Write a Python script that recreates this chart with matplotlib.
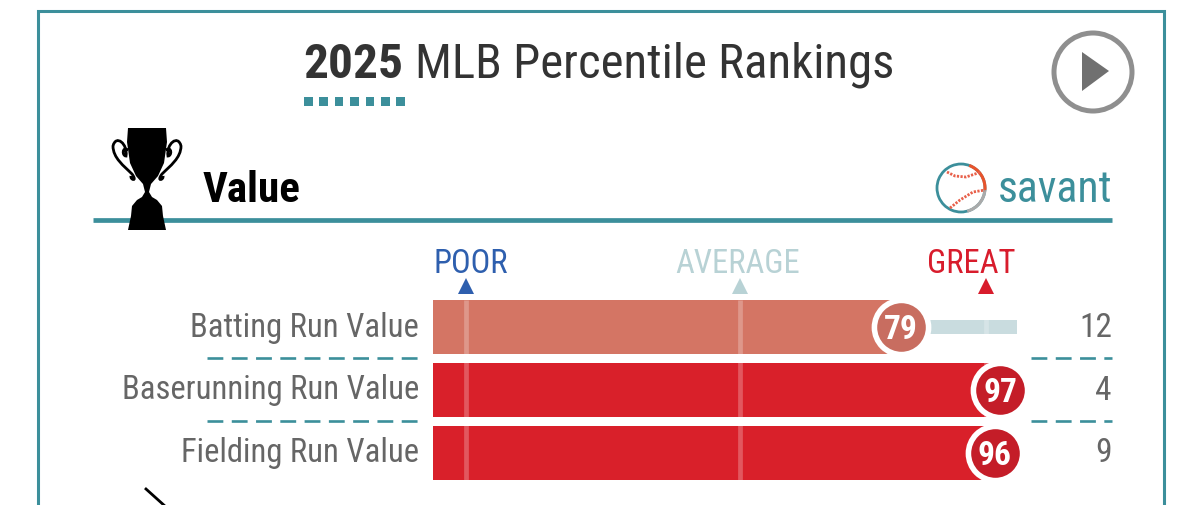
"""Statcast style percentile card, value section."""
import matplotlib
matplotlib.use("Agg")
import matplotlib.pyplot as plt
from matplotlib.patches import Circle, Polygon, Rectangle, Arc, PathPatch
from matplotlib.path import Path

plt.rcParams["font.family"] = ["Roboto Condensed", "Barlow Condensed", "Roboto", "DejaVu Sans"]

TEAL = "#3c8f9b"
GREY = "#666666"

metrics = ["Batting Run Value", "Baserunning Run Value", "Fielding Run Value"]
percentiles = [79, 97, 96]
run_values = ["12", "4", "9"]
bar_colors = ["#d47564", "#d9202a", "#d9202a"]
badge_colors = ["#c86d60", "#c41d28", "#c41d28"]
scale_labels = ["POOR", "AVERAGE", "GREAT"]
scale_marks = [0.4, 50, 94.4]
scale_colors = ["#2e5fae", "#b8d2d5", "#d81c2c"]

W, H = 1200, 505
fig = plt.figure(figsize=(12, 5.05), dpi=100, facecolor="white")

# pixel layer for the card furniture
bg = fig.add_axes([0, 0, 1, 1])
bg.set_xlim(0, W)
bg.set_ylim(H, 0)
bg.axis("off")

bg.plot([37.5, 37.5, 1164, 1164], [520, 11, 11, 520], color=TEAL, lw=2.2, solid_joinstyle="miter")

bg.text(303, 78, "2025", fontsize=35.5, fontweight="bold", color="#333333", ha="left", va="baseline")
bg.text(415, 78, "MLB Percentile Rankings", fontsize=35.2, color="#333333", ha="left", va="baseline")
for i in range(7):
    bg.add_patch(Rectangle((304 + i * 15.4, 97), 8.5, 8.5, color=TEAL, lw=0))

# play button
bg.add_patch(Circle((1093, 72), 39, fc="white", ec="#8f8f8f", lw=3.6))
bg.add_patch(Polygon([(1082, 52), (1109, 71), (1082, 91)], color="#707070", lw=0))

# section header
bg.plot([93, 1112], [220, 220], color=TEAL, lw=3.4, solid_capstyle="butt")
bg.text(203, 202, "Value", fontsize=31, fontweight="bold", color="black", ha="left", va="baseline")
bg.text(1112, 202, "savant", fontsize=31.5, color=TEAL, ha="right", va="baseline")

# trophy
cup = [(128, 128), (166, 128), (167, 142), (164, 163), (158, 176), (151, 184), (149, 192),
       (152, 197), (157, 200), (162, 206), (163, 216), (166, 230), (128, 230), (131, 216),
       (132, 206), (137, 200), (142, 197), (145, 192), (143, 184), (136, 176), (130, 163), (127, 142)]
bg.add_patch(Polygon(cup, color="black", lw=0, zorder=4))
left_handle = Path([(128, 150), (122, 146), (122, 156), (126, 156), (128, 144), (116, 134), (113, 146),
                    (113, 158), (124, 166), (132, 174), (138, 182), (130, 180), (131, 176)],
                   [Path.MOVETO] + [Path.CURVE4] * 12)
right_handle = Path([(166, 150), (172, 146), (172, 156), (168, 156), (166, 144), (178, 134), (181, 146),
                     (181, 158), (170, 166), (162, 174), (156, 182), (164, 180), (163, 176)],
                    [Path.MOVETO] + [Path.CURVE4] * 12)
for handle in (left_handle, right_handle):
    bg.add_patch(PathPatch(handle, fc="none", ec="black", lw=2, zorder=4))

# savant ball
ball = (961, 188)
bg.add_patch(Arc(ball, 48, 48, theta1=0, theta2=360, ec=TEAL, lw=2))
bg.add_patch(Arc(ball, 48, 48, theta1=-70, theta2=5, ec="#e8532b", lw=2.2))
bg.add_patch(Arc(ball, 48, 48, theta1=5, theta2=75, ec="#aaaaaa", lw=2.2))
bg.plot([947, 955, 966, 981], [172, 176, 177, 172], color="#e8604a", lw=2, ls=(0, (0.8, 0.5)))
bg.plot([950, 960, 973, 985], [208, 200, 192, 190], color="#e8604a", lw=2, ls=(0, (0.8, 0.5)))

# column headers
label_x = [471, 738, 971]
for name, x, c in zip(scale_labels, label_x, scale_colors):
    bg.text(x, 273, name, fontsize=23.5, color=c, ha="center", va="baseline")

# separators
for y in (358, 421):
    bg.plot([207, 419], [y, y], color=TEAL, lw=1.9, ls=(0, (6, 3.2)))
    bg.plot([1031, 1112], [y, y], color=TEAL, lw=1.9, ls=(0, (6, 3.2)))

# stray pointer at the bottom edge
bg.plot([146, 166], [489, 507], color="black", lw=2)

# percentile bars, x in percentile units
ax = fig.add_axes([433 / W, 1 - 483.9 / H, (1017 - 433) / W, (483.9 - 295.6) / H])
ax.set_xlim(-5.6, 100)
ax.set_ylim(2.5, -0.5)
ax.axis("off")
ax.patch.set_alpha(0)

ypos = range(len(metrics))
ax.barh(ypos, [p + 5.6 for p in percentiles], left=-5.6, height=0.86, color=bar_colors, zorder=2)
ax.barh([0], [100 - percentiles[0]], left=percentiles[0], height=0.23, color="#c9dcdf", zorder=1)

for mark, c in zip(scale_marks, scale_colors):
    ax.plot([mark], [-0.655], marker="^", color=c, ms=11.5, mew=0, clip_on=False, zorder=5)
    ax.vlines(mark, -0.43, 2.43, color="white", lw=3.4, alpha=0.25, zorder=3)

for y, name, p, val, bc in zip(ypos, metrics, percentiles, run_values, badge_colors):
    ax.plot([p], [y], marker="o", ms=39, mfc=bc, mec="white", mew=4, clip_on=False, zorder=6)
    ax.text(p, y, str(p), color="white", fontsize=24, fontweight="bold", ha="center", va="center_baseline", zorder=7)
    bg.text(419, 337 + y * 62.5, name, fontsize=23.5, color=GREY, ha="right", va="baseline")
    bg.text(1112, 337 + y * 62.5, val, fontsize=24, color=GREY, ha="right", va="baseline")

fig.savefig("out.png", dpi=100, facecolor="white")
